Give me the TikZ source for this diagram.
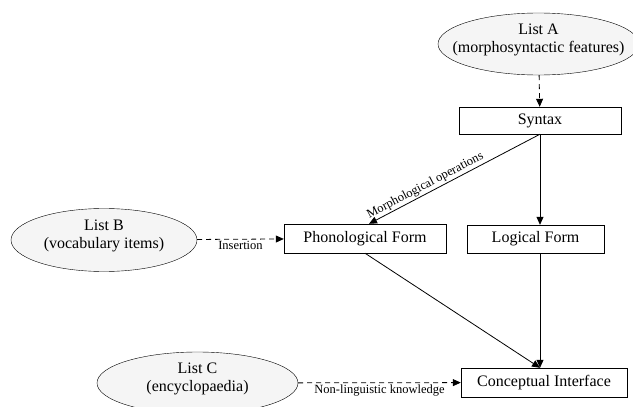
\documentclass[tikz,border=0pt]{standalone}
\usepackage{fontspec}
\setmainfont{Liberation Serif}
\usetikzlibrary{arrows.meta,shapes.geometric}

\newcommand{\listtext}[1]{\smash{\makebox[0pt]{\begin{tabular}{@{}c@{}}#1\end{tabular}}}}

\tikzset{
	list/.style={ellipse, draw, fill=gray!8, inner sep=0pt, font=\fontsize{16}{18.5}\selectfont},
	level/.style={rectangle, draw, inner sep=0pt, font=\fontsize{16}{18.5}\selectfont},
	feed/.style={-{Triangle[length=8pt,width=7pt]}, dash pattern=on 5pt off 4pt, line width=0.8pt},
	derive/.style={-{Triangle[length=8pt,width=7pt]}, line width=0.8pt},
	lbl/.style={font=\fontsize{12.5}{14}\selectfont, inner sep=1.5pt}
}

\begin{document}
\begin{tikzpicture}[x=1pt,y=-1pt]
\useasboundingbox (0,0) rectangle (633,407);
% the three lists
\node[list, minimum width=201pt, minimum height=62pt] (listA) at (538.5,44) {\listtext{List A\\(morphosyntactic features)}};
\node[list, minimum width=186pt, minimum height=63pt] (listB) at (104,240) {\listtext{List B\\(vocabulary items)}};
\node[list, minimum width=201pt, minimum height=62pt] (listC) at (197.5,383) {\listtext{List C\\(encyclopaedia)}};
% grammar levels
\node[level, minimum width=162pt, minimum height=27pt] (syn) at (540,120.5) {Syntax};
\node[level, minimum width=162pt, minimum height=29pt] (pf) at (365,238.5) {Phonological Form};
\node[level, minimum width=137pt, minimum height=28pt] (lf) at (535.5,239) {Logical Form};
\node[level, minimum width=166pt, minimum height=29pt] (ci) at (544,382.5) {Conceptual Interface};
\path[feed]
(listA) edge (syn)
(listB) edge node [lbl, below] {Insertion} (pf)
(listC) edge node [lbl, below] {Non-linguistic knowledge} (ci)
;
\path[derive]
(syn.south) edge node [lbl, pos=0.65, sloped, above] {Morphological operations} ([xshift=4pt]pf.north)
(syn.south) edge (syn.south |- lf.north)
(pf.south) edge (syn.south |- ci.north)
(syn.south |- lf.south) edge (syn.south |- ci.north)
;
\end{tikzpicture}
\end{document}
